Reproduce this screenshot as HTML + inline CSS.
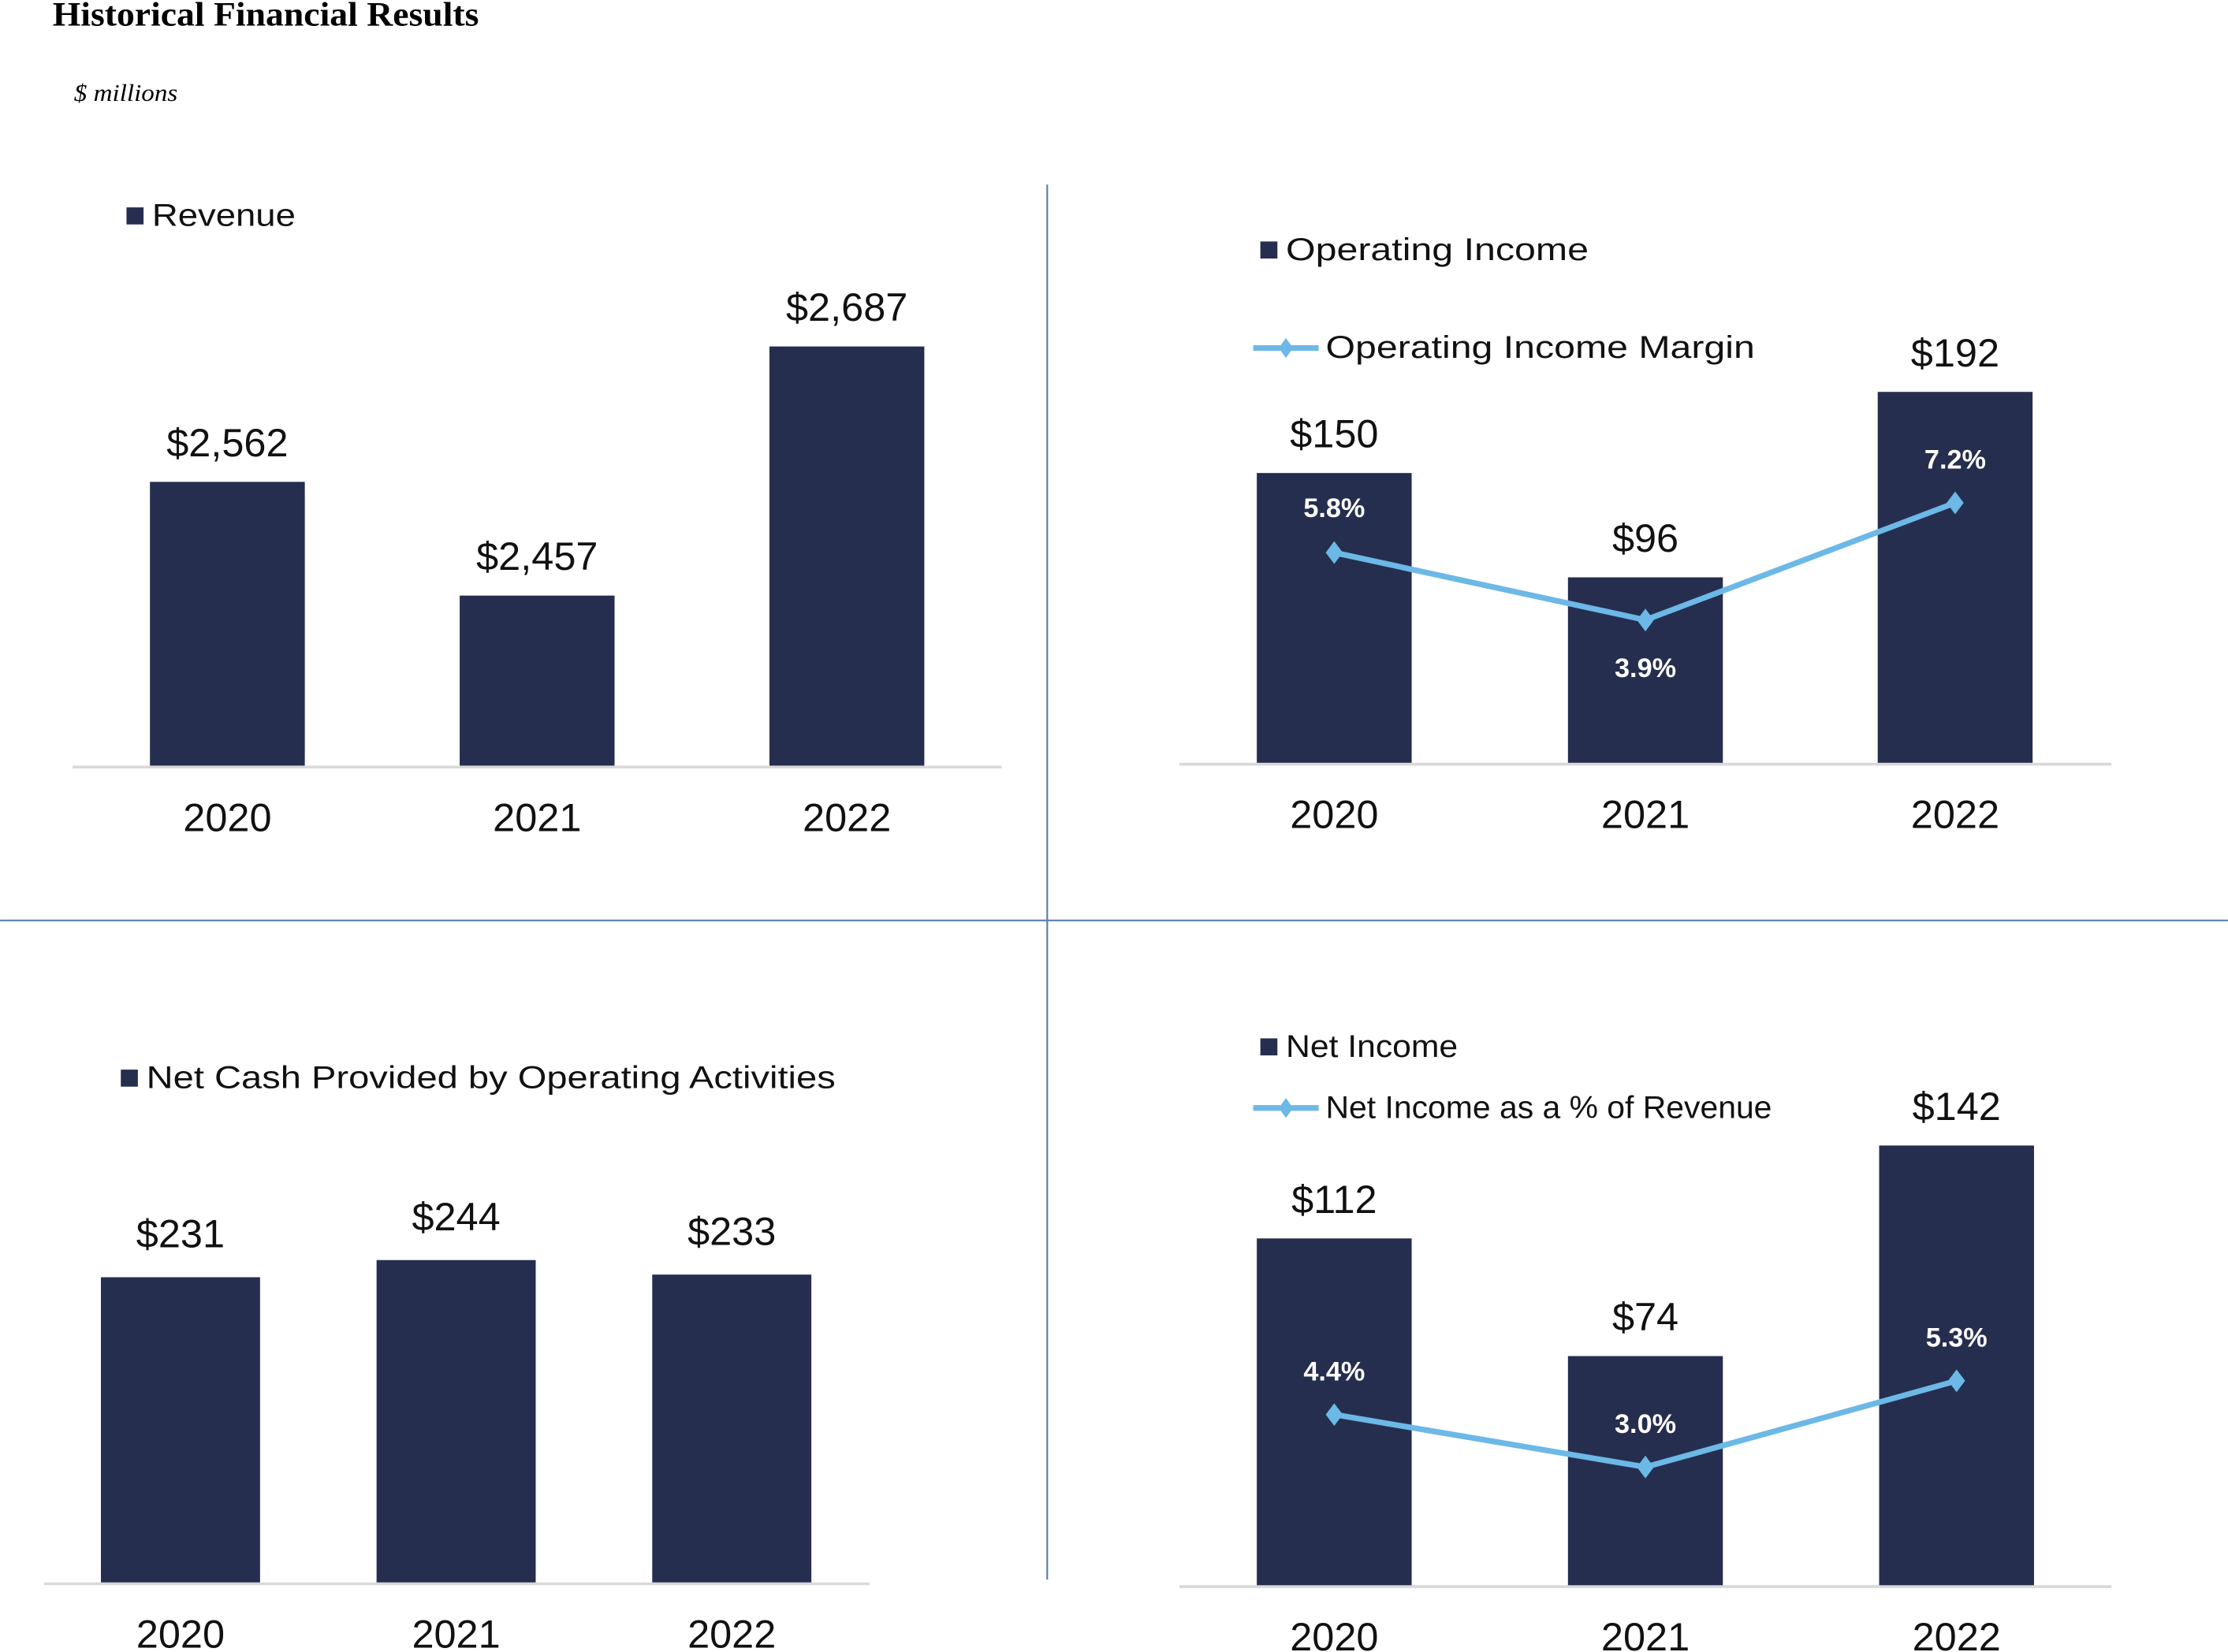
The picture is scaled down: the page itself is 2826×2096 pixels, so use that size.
<!DOCTYPE html>
<html><head><meta charset="utf-8"><style>
html,body{margin:0;padding:0;background:#fff;}
svg{display:block;}
text{font-family:"Liberation Sans",sans-serif;}
</style></head><body>
<svg id="s" width="2826" height="2096" viewBox="0 0 1568 1163" xmlns="http://www.w3.org/2000/svg">
<text x="37" y="18" font-weight="bold" font-size="24" fill="#000" textLength="300" lengthAdjust="spacingAndGlyphs" style="font-family:'Liberation Serif',serif">Historical Financial Results</text>
<text x="52" y="71" font-style="italic" font-size="17" fill="#000" textLength="73" lengthAdjust="spacingAndGlyphs" style="font-family:'Liberation Serif',serif">$ millions</text>
<line x1="737" y1="130" x2="737" y2="1112" stroke="#5b7fa6" stroke-width="1.2"/>
<line x1="0" y1="648" x2="1568" y2="648" stroke="#5b7fa6" stroke-width="1.2"/>
</svg>
<script>
const years = ["2020","2021","2022"];
const revenue = [2562,2457,2687];
const opIncome = [150,96,192];
const opMargin = [5.8,3.9,7.2];
const netCash = [231,244,233];
const netIncome = [112,74,142];
const niMargin = [4.4,3.0,5.3];

const svg=document.getElementById('s');
const NS='http://www.w3.org/2000/svg';
function mk(tag,attrs,txt){const e=document.createElementNS(NS,tag);for(const k in attrs)e.setAttribute(k,attrs[k]);if(txt!==undefined)e.textContent=txt;svg.appendChild(e);return e;}
const BAR='#262e4f', LINE='#6cb8e6';

function chart(o){
  const yS=v=>o.base-(v-o.min)*o.k;
  const ax=mk('line',{x1:o.ax0,y1:o.base+1,x2:o.ax1,y2:o.base+1,stroke:'#d9d9d9','stroke-width':2});
  
  
  o.vals.forEach((v,i)=>{
    const cx=o.cx[i], top=yS(v);
    const r=mk('rect',{x:cx-o.w/2,y:top,width:o.w,height:o.base-top,fill:BAR});
    
    
    const t=mk('text',{x:cx,y:top-o.lblOff,'text-anchor':'middle','font-size':28,fill:'#111'},'$'+v.toLocaleString('en-US'));
    
    
    const yl=mk('text',{x:cx,y:o.yearY,'text-anchor':'middle','font-size':28,fill:'#111'},years[i]);
    
    
  });
  if(o.line){
    const ly=v=>o.lb-v*o.lk;
    const pts=o.line.map((v,i)=>o.cx[i]+','+ly(v)).join(' ');
    const pl=mk('polyline',{points:pts,fill:'none',stroke:LINE,'stroke-width':4});
    
    
    o.line.forEach((v,i)=>{
      const x=o.cx[i],y=ly(v);
      const d=mk('polygon',{points:`${x},${y-8} ${x+6},${y} ${x},${y+8} ${x-6},${y}`,fill:LINE});
      
      
      const t=mk('text',{x:x,y:y+o.pOff[i],'text-anchor':'middle','font-size':19,'font-weight':'bold',fill:'#fff'},v.toFixed(1)+'%');
      
      
    });
  }
  const sq=mk('rect',{x:o.lgx,y:o.lgy-13,width:12,height:12,fill:BAR});
  
  
  const lt=mk('text',{x:o.lgx+18,y:o.lgy,'font-size':22,fill:'#111',textLength:o.lgw,lengthAdjust:'spacingAndGlyphs'},o.legend);
  
  
  if(o.line){
    const yy=o.l2y;
    const l=mk('line',{x1:882,y1:yy,x2:928,y2:yy,stroke:LINE,'stroke-width':4});
    
    
    const d=mk('polygon',{points:`905,${yy-7} 910,${yy} 905,${yy+7} 900,${yy}`,fill:LINE});
    
    
    const t=mk('text',{x:933,y:yy+7,'font-size':22,fill:'#111',textLength:o.lgw2,lengthAdjust:'spacingAndGlyphs'},o.legend2);
    
    
  }
}
chart({name:'revenue',vals:revenue,min:2300,k:0.7625,base:539,ax0:51,ax1:705,cx:[160,378,596],w:109,lblOff:18,yearY:585,lgx:89,lgy:159,legend:'Revenue',lgw:101});
chart({name:'operating-income',vals:opIncome,min:0,k:1.36,base:537,ax0:830,ax1:1486,cx:[939,1158,1376],w:109,lblOff:18,yearY:583,lgx:887,lgy:183,legend:'Operating Income',lgw:213,
  line:opMargin,lb:534,lk:25,pOff:[-25,40,-24],l2y:245,legend2:'Operating Income Margin',lgw2:302});
chart({name:'net-cash',vals:netCash,min:0,k:0.93,base:1114,ax0:31,ax1:612,cx:[127,321,515],w:112,lblOff:21,yearY:1160,lgx:85,lgy:766,legend:'Net Cash Provided by Operating Activities',lgw:485});
chart({name:'net-income',vals:netIncome,min:0,k:2.18,base:1116,ax0:830,ax1:1486,cx:[939,1158,1377],w:109,lblOff:18,yearY:1162,lgx:887,lgy:744,legend:'Net Income',lgw:121,
  line:niMargin,lb:1112,lk:26.4,pOff:[-24,-24,-24],l2y:780,legend2:'Net Income as a % of Revenue',lgw2:314});
</script>
</body></html>
